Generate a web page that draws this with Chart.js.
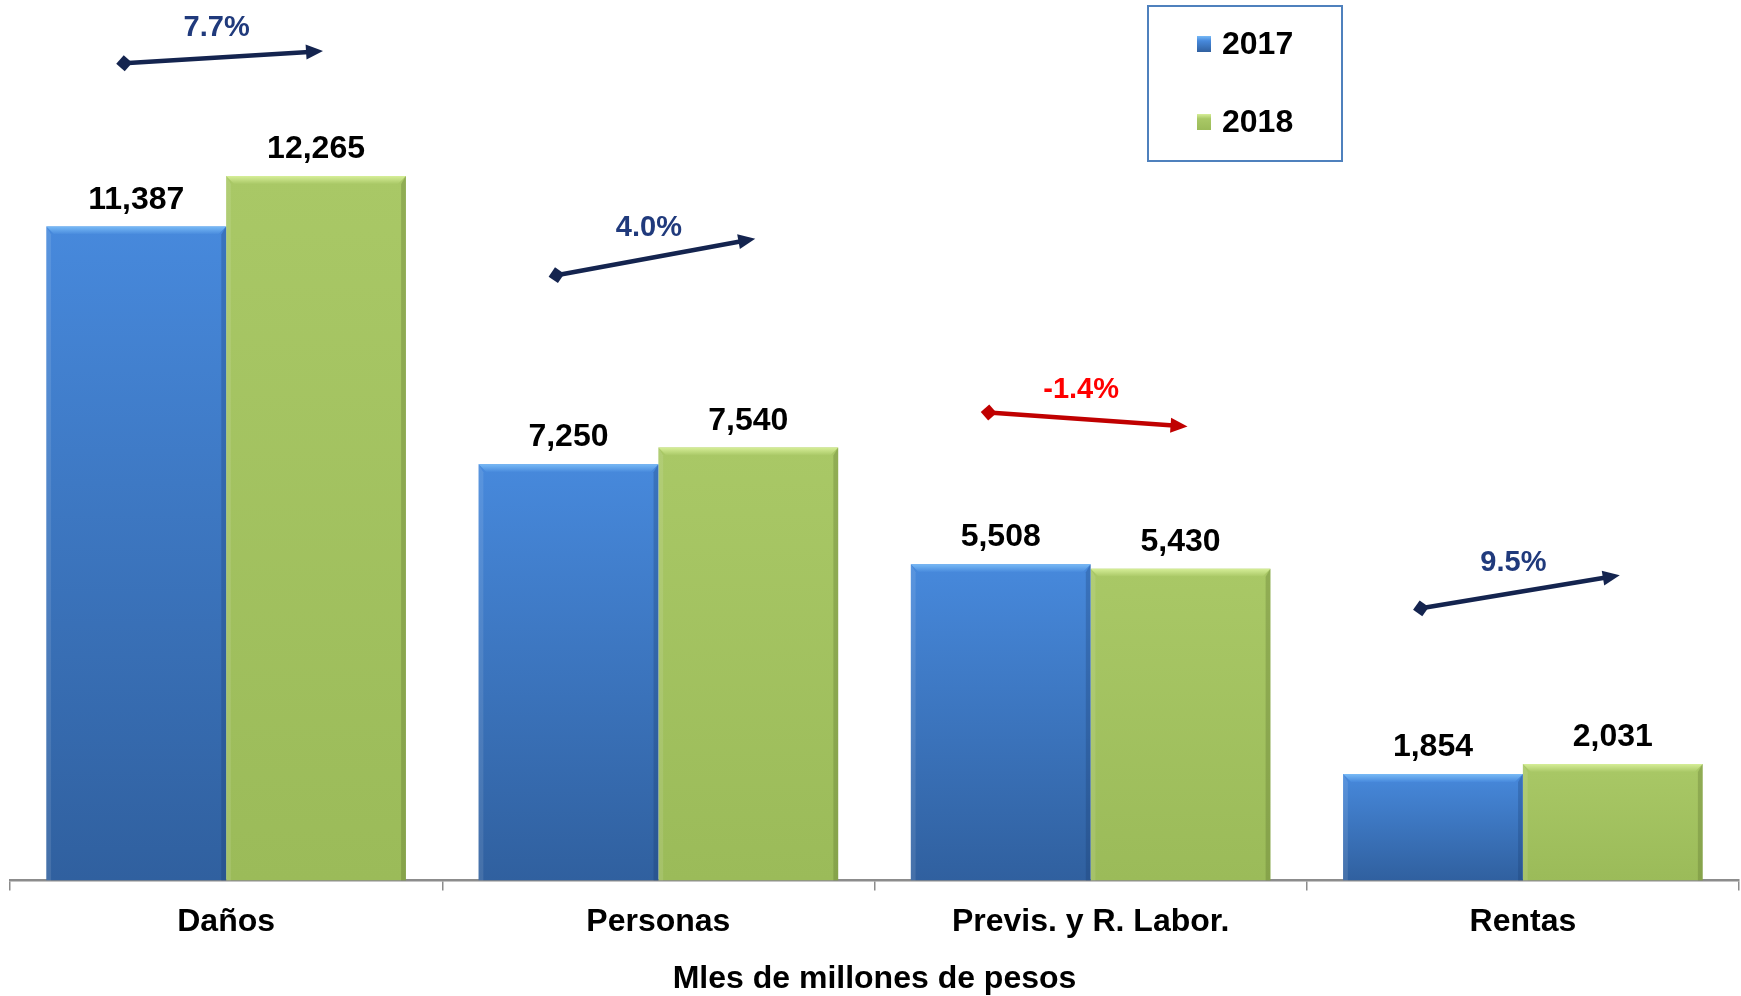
<!DOCTYPE html>
<html>
<head>
<meta charset="utf-8">
<script src="https://cdn.jsdelivr.net/npm/chart.js@4"></script>
<style>
  html, body { margin: 0; padding: 0; background: #fff; }
  #wrap { width: 1741px; height: 996px; position: relative; }
</style>
</head>
<body>
<div id="wrap"><canvas id="chart"></canvas></div>
<script>
// data
const categories = ['Daños', 'Personas', 'Previs. y R. Labor.', 'Rentas'];
const seriesNames = ['2017', '2018'];
const values2017 = [11387, 7250, 5508, 1854];
const values2018 = [12265, 7540, 5430, 2031];
const growthLabels = ['7.7%', '4.0%', '-1.4%', '9.5%'];
// arrow ends, in the same units as the bars
const arrowFrom = [14230, 10540, 8150, 4740];
const arrowTo = [14440, 11170, 7910, 5310];
const axisTitle = 'Mles de millones de pesos';

const FONT = '"Liberation Sans", Arial, sans-serif';
Chart.defaults.font.family = FONT;
Chart.defaults.color = '#000';

const blue = { top: '#4789dc', bottom: '#30609f', light: '#78baf6', edge: 'rgba(20,50,100,0.25)' };
const green = { top: '#a9c866', bottom: '#9bbb59', light: '#d6ee98', edge: 'rgba(70,90,30,0.25)' };

function barFill(c) {
    return (ctx) => {
        const chart = ctx.chart;
        if (!chart.chartArea || ctx.type !== 'data') return c.bottom;
        const y = chart.scales.y;
        const g = chart.ctx.createLinearGradient(0, y.getPixelForValue(ctx.raw), 0, y.getPixelForValue(0));
        g.addColorStop(0, c.top);
        g.addColorStop(1, c.bottom);
        return g;
    };
}

// bevel on each bar
const bevelPlugin = {
    id: 'bevel',
    afterDatasetsDraw(chart) {
        const ctx = chart.ctx;
        const styles = [blue, green];
        chart.data.datasets.forEach((ds, di) => {
            const meta = chart.getDatasetMeta(di);
            const st = styles[di];
            meta.data.forEach((el) => {
                const w = el.width, l = el.x - w / 2, r = el.x + w / 2;
                const t = el.y, b = el.base, bv = 8;
                ctx.save();
                const g = ctx.createLinearGradient(0, t, 0, t + bv);
                g.addColorStop(0, st.light);
                g.addColorStop(1, st.top);
                ctx.fillStyle = g;
                ctx.beginPath();
                ctx.moveTo(l, t); ctx.lineTo(r, t);
                ctx.lineTo(r - bv, t + bv); ctx.lineTo(l + bv, t + bv);
                ctx.closePath(); ctx.fill();
                ctx.fillStyle = st.edge;
                ctx.beginPath();
                ctx.moveTo(r, t); ctx.lineTo(r - bv * 0.6, t + bv);
                ctx.lineTo(r - bv * 0.6, b); ctx.lineTo(r, b);
                ctx.closePath(); ctx.fill();
                ctx.fillStyle = 'rgba(255,255,255,0.10)';
                ctx.beginPath();
                ctx.moveTo(l, t); ctx.lineTo(l + bv * 0.6, t + bv);
                ctx.lineTo(l + bv * 0.6, b); ctx.lineTo(l, b);
                ctx.closePath(); ctx.fill();
                ctx.restore();
            });
        });
    }
};

// numbers above the bars
const valueLabels = {
    id: 'valueLabels',
    afterDatasetsDraw(chart) {
        const ctx = chart.ctx;
        ctx.save();
        ctx.font = 'bold 32px ' + FONT;
        ctx.fillStyle = '#000';
        ctx.textAlign = 'center';
        ctx.textBaseline = 'alphabetic';
        chart.data.datasets.forEach((ds, di) => {
            chart.getDatasetMeta(di).data.forEach((el, i) => {
                ctx.fillText(ds.data[i].toLocaleString('en-US'), el.x, el.y - 18);
            });
        });
        ctx.restore();
    }
};

// growth arrows from the 2017 bar to the 2018 bar
const growthArrows = {
    id: 'growthArrows',
    afterDatasetsDraw(chart) {
        const ctx = chart.ctx;
        const y = chart.scales.y;
        const m0 = chart.getDatasetMeta(0), m1 = chart.getDatasetMeta(1);
        categories.forEach((cat, i) => {
            const neg = values2018[i] < values2017[i];
            const lineCol = neg ? '#c00000' : '#14244f';
            const textCol = neg ? '#ff0000' : '#203a7c';
            const x0 = m0.data[i].x - 12, x1 = m1.data[i].x + 5;
            const y0 = y.getPixelForValue(arrowFrom[i]);
            const y1 = y.getPixelForValue(arrowTo[i]);
            const ang = Math.atan2(y1 - y0, x1 - x0);
            ctx.save();
            ctx.strokeStyle = lineCol;
            ctx.fillStyle = lineCol;
            ctx.lineWidth = 4.5;
            ctx.beginPath();
            ctx.moveTo(x0, y0);
            ctx.lineTo(x1 - 12 * Math.cos(ang), y1 - 12 * Math.sin(ang));
            ctx.stroke();
            // arrow head
            ctx.translate(x1, y1);
            ctx.rotate(ang);
            ctx.beginPath();
            ctx.moveTo(2, 0); ctx.lineTo(-15, -7.5); ctx.lineTo(-15, 7.5);
            ctx.closePath(); ctx.fill();
            ctx.setTransform(1, 0, 0, 1, 0, 0);
            // diamond
            ctx.translate(x0, y0);
            ctx.rotate(ang);
            ctx.beginPath();
            ctx.moveTo(-8, 0); ctx.lineTo(0, -8); ctx.lineTo(8, 0); ctx.lineTo(0, 8);
            ctx.closePath(); ctx.fill();
            ctx.setTransform(1, 0, 0, 1, 0, 0);
            ctx.font = 'bold 29px ' + FONT;
            ctx.fillStyle = textCol;
            ctx.textAlign = 'center';
            ctx.textBaseline = 'middle';
            ctx.fillText(growthLabels[i], (x0 + x1) / 2 - 6, (y0 + y1) / 2 - 29);
            ctx.restore();
        });
    }
};

// boxed legend, top right
const boxLegend = {
    id: 'boxLegend',
    afterDraw(chart) {
        const ctx = chart.ctx;
        const styles = [blue, green];
        ctx.save();
        ctx.fillStyle = '#fff';
        ctx.fillRect(1148, 6, 194, 155);
        ctx.strokeStyle = '#4f81bd';
        ctx.lineWidth = 2;
        ctx.strokeRect(1148, 6, 194, 155);
        chart.data.datasets.forEach((ds, di) => {
            const cy = 44 + di * 78;
            const st = styles[di];
            const g = ctx.createLinearGradient(0, cy - 8, 0, cy + 8);
            g.addColorStop(0, st.light);
            g.addColorStop(0.3, st.top);
            g.addColorStop(1, st.bottom);
            ctx.fillStyle = g;
            ctx.fillRect(1197, cy - 8, 14, 16);
            ctx.fillStyle = '#000';
            ctx.font = 'bold 32px ' + FONT;
            ctx.textAlign = 'left';
            ctx.textBaseline = 'middle';
            ctx.fillText(ds.label, 1222, cy + 1);
        });
        ctx.restore();
    }
};

new Chart(document.getElementById('chart'), {
    type: 'bar',
    data: {
        labels: categories,
        datasets: [
            { label: seriesNames[0], data: values2017, backgroundColor: barFill(blue) },
            { label: seriesNames[1], data: values2018, backgroundColor: barFill(green) }
        ]
    },
    options: {
        responsive: true,
        maintainAspectRatio: false,
        animation: false,
        layout: { padding: { top: 19, left: 10, right: 2, bottom: 0 } },
        datasets: { bar: { barPercentage: 1, categoryPercentage: 0.832, borderWidth: 0 } },
        plugins: {
            legend: { display: false },
            tooltip: { enabled: false }
        },
        scales: {
            y: { display: false, min: 0, max: 15000 },
            x: {
                border: { display: true, color: '#8c8c8c', width: 2.5 },
                grid: { drawOnChartArea: false, drawTicks: true, tickLength: 10, color: '#8c8c8c', lineWidth: 1.5 },
                ticks: { padding: 12, color: '#000', font: { size: 32, weight: 'bold' } },
                title: {
                    display: true,
                    text: axisTitle,
                    color: '#000',
                    font: { size: 32, weight: 'bold', lineHeight: 1 },
                    padding: { top: 10, bottom: 1 }
                }
            }
        }
    },
    plugins: [bevelPlugin, valueLabels, growthArrows, boxLegend]
});
</script>
</body>
</html>
